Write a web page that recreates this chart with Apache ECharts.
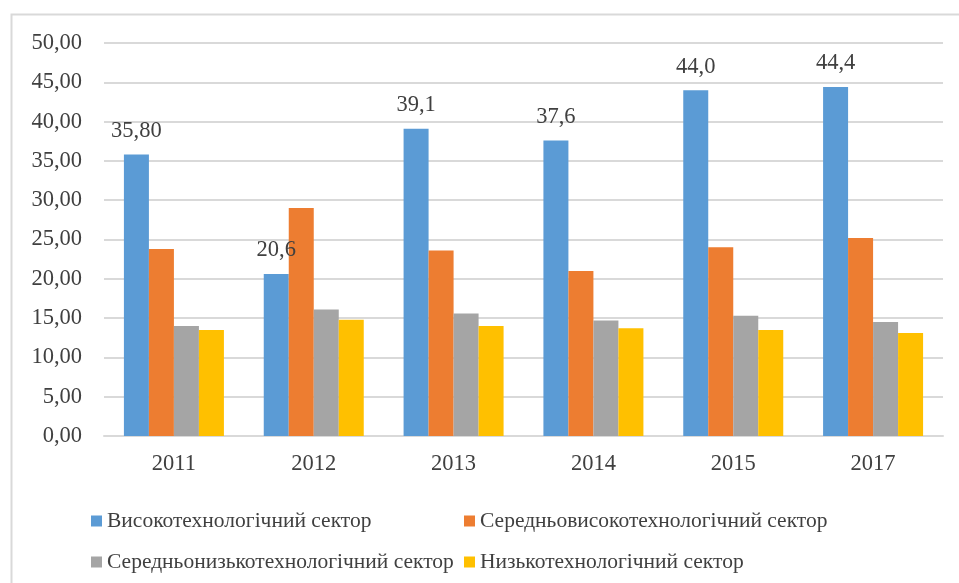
<!DOCTYPE html>
<html>
<head>
<meta charset="utf-8">
<script src="https://cdn.jsdelivr.net/npm/echarts@6/dist/echarts.min.js"></script>
<style>
  html, body { margin: 0; padding: 0; background: #fff; }
  #chart { width: 959px; height: 583px; }
</style>
</head>
<body>
<div id="chart"></div>
<script>
const years = ["2011", "2012", "2013", "2014", "2015", "2017"];
const seriesNames = [
  "Високотехнологічний сектор",
  "Середньовисокотехнологічний сектор",
  "Середньонизькотехнологічний сектор",
  "Низькотехнологічний сектор"
];
const highTech = [35.8, 20.6, 39.1, 37.6, 44.0, 44.4];
const midHighTech = [23.8, 29.0, 23.6, 21.0, 24.0, 25.2];
const midLowTech = [14.0, 16.1, 15.6, 14.7, 15.3, 14.5];
const lowTech = [13.5, 14.8, 14.0, 13.7, 13.5, 13.1];
const highTechLabels = ["35,80", "20,6", "39,1", "37,6", "44,0", "44,4"];
const colors = ["#5B9BD5", "#ED7D31", "#A5A5A5", "#FFC000"];

const font = "'Liberation Serif', 'DejaVu Serif', serif";
const fontSize = 22.5;
const textColor = "#404040";

const chart = echarts.init(document.getElementById("chart"));

function bar(name, data, color, withLabels) {
  const s = {
    name: name,
    type: "bar",
    data: data,
    barWidth: 25,
    barGap: "0%",
    itemStyle: { color: color },
    animation: false
  };
  if (withLabels) {
    s.label = {
      show: true,
      position: "top",
      distance: 12,
      fontFamily: font,
      fontSize: fontSize,
      color: textColor,
      formatter: p => highTechLabels[p.dataIndex]
    };
  }
  return s;
}

// two columns of legend, like the original layout
function legendColumn(left, names) {
  return {
    orient: "vertical",
    left: left,
    top: 505,
    itemWidth: 11,
    itemHeight: 11,
    itemGap: 19,
    icon: "rect",
    data: names,
    textStyle: { fontFamily: font, fontSize: 21.5, color: textColor }
  };
}

const option = {
  animation: false,
  color: colors,
  graphic: [{
    type: "rect",
    shape: { x: 11.5, y: 14.5, width: 960, height: 600 },
    style: { fill: "none", stroke: "#d9d9d9", lineWidth: 2 }
  }],
  grid: { left: 104, right: 16, top: 43, bottom: 147 },
  legend: [
    legendColumn(86, [seriesNames[0], seriesNames[2]]),
    legendColumn(459, [seriesNames[1], seriesNames[3]])
  ],
  xAxis: {
    type: "category",
    data: years,
    axisLine: { lineStyle: { color: "#d9d9d9", width: 2 } },
    axisTick: { show: false },
    axisLabel: { fontFamily: font, fontSize: fontSize, color: textColor, margin: 17 }
  },
  yAxis: {
    type: "value",
    min: 0,
    max: 50,
    interval: 5,
    axisLine: { show: false },
    axisTick: { show: false },
    splitLine: { lineStyle: { color: "#d9d9d9", width: 2 } },
    axisLabel: {
      fontFamily: font,
      fontSize: fontSize,
      color: textColor,
      margin: 22,
      formatter: v => v.toFixed(2).replace(".", ",")
    }
  },
  series: [
    bar(seriesNames[0], highTech, colors[0], true),
    bar(seriesNames[1], midHighTech, colors[1], false),
    bar(seriesNames[2], midLowTech, colors[2], false),
    bar(seriesNames[3], lowTech, colors[3], false)
  ]
};

chart.setOption(option);
</script>
</body>
</html>
